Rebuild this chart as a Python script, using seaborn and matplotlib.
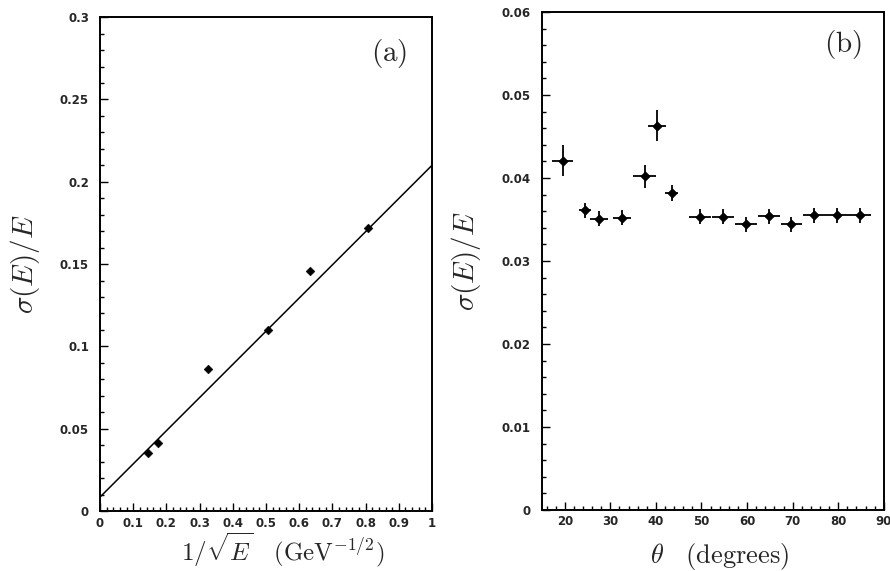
import numpy as np
import pandas as pd
import matplotlib
matplotlib.use("Agg")
import matplotlib.pyplot as plt
import seaborn as sns
from matplotlib.ticker import MultipleLocator, AutoMinorLocator

# --------------------------------------------------------------------------- #
# Data
# --------------------------------------------------------------------------- #
# (a) resolution vs 1/sqrt(E)
inv_sqrt_e = [0.145, 0.176, 0.326, 0.505, 0.632, 0.808]
res_a = [0.0352, 0.0413, 0.0860, 0.1100, 0.1460, 0.1720]
res_a_err = [0.0015, 0.0015, 0.0015, 0.0015, 0.0015, 0.0015]
fit_x = [0.0, 1.0]
fit_intercept = 0.0085
fit_slope = 0.2015

# (b) resolution vs theta
theta = [19.5, 24.5, 27.5, 32.5, 37.5, 40.25, 43.5, 49.75, 54.75,
         59.75, 64.75, 69.75, 74.75, 79.75, 84.75]
theta_err = [2.4, 1.3, 2.0, 2.0, 2.5, 2.0, 1.4, 2.4, 2.4,
             2.4, 2.4, 2.4, 2.5, 2.5, 2.5]
res_b = [0.0421, 0.0361, 0.0351, 0.0352, 0.0402, 0.0463, 0.0382, 0.0353,
         0.0353, 0.0344, 0.0354, 0.0344, 0.0355, 0.0355, 0.0355]
res_b_err = [0.0019, 0.0009, 0.0009, 0.0009, 0.0014, 0.0019, 0.0010, 0.0009,
             0.0009, 0.0009, 0.0009, 0.0009, 0.0009, 0.0009, 0.0009]

x_ticks_a = ["0", "0.1", "0.2", "0.3", "0.4", "0.5", "0.6", "0.7",
             "0.8", "0.9", "1"]
y_ticks_a = ["0", "0.05", "0.1", "0.15", "0.2", "0.25", "0.3"]
x_ticks_b = ["20", "30", "40", "50", "60", "70", "80", "90"]
y_ticks_b = ["0", "0.01", "0.02", "0.03", "0.04", "0.05", "0.06"]

df_a = pd.DataFrame({"x": inv_sqrt_e, "y": res_a})
df_fit = pd.DataFrame({"x": fit_x,
                       "y": [fit_intercept + fit_slope * v for v in fit_x]})
df_b = pd.DataFrame({"x": theta, "y": res_b})

# --------------------------------------------------------------------------- #
# Style
# --------------------------------------------------------------------------- #
sns.set_theme(style="ticks")
plt.rcParams["font.family"] = ["DejaVu Sans"]
plt.rcParams["mathtext.fontset"] = "cm"

fig = plt.figure(figsize=(8.9, 5.71), dpi=100)
ax_a = fig.add_axes([0.1124, 0.105, 0.373, 0.865])
ax_b = fig.add_axes([0.609, 0.107, 0.384, 0.872])


def style_axes(ax):
    for sp in ax.spines.values():
        sp.set_linewidth(1.4)
        sp.set_color("black")
    ax.tick_params(which="both", direction="in", top=False, right=False,
                   color="black", width=1.0)
    ax.tick_params(which="major", length=6)
    ax.tick_params(which="minor", length=3)
    ax.tick_params(axis="y", pad=8)
    ax.tick_params(axis="x", pad=4)
    for lab in ax.get_xticklabels() + ax.get_yticklabels():
        lab.set_fontsize(8.5)
        lab.set_fontweight("bold")


# --- panel (a) ------------------------------------------------------------
sns.lineplot(data=df_fit, x="x", y="y", ax=ax_a, color="black", linewidth=1.1)
ax_a.errorbar(inv_sqrt_e, res_a, yerr=res_a_err, xerr=0.006, fmt="none",
              ecolor="black", elinewidth=1.1)
sns.scatterplot(data=df_a, x="x", y="y", ax=ax_a, marker="D", s=20,
                color="black", edgecolor="black", zorder=3)
ax_a.set_xlim(0, 1)
ax_a.set_ylim(0, 0.3)
ax_a.set_xticks(np.arange(0, 1.01, 0.1))
ax_a.set_xticklabels(x_ticks_a)
ax_a.xaxis.set_minor_locator(AutoMinorLocator(5))
ax_a.set_yticks(np.arange(0, 0.301, 0.05))
ax_a.set_yticklabels(y_ticks_a)
ax_a.yaxis.set_minor_locator(AutoMinorLocator(5))
style_axes(ax_a)
ax_a.set_xlabel(r"$1/\sqrt{E}\ \ \ (\mathrm{GeV}^{-1/2})$", fontsize=18)
ax_a.xaxis.set_label_coords(0.55, -0.04)
ax_a.set_ylabel(r"$\sigma(E)/E$", fontsize=21)
ax_a.yaxis.set_label_coords(-0.175, 0.5)
ax_a.text(0.925, 0.96, r"$\mathrm{(a)}$", transform=ax_a.transAxes,
          fontsize=21, ha="right", va="top")

# --- panel (b) ------------------------------------------------------------
ax_b.errorbar(theta, res_b, yerr=res_b_err, xerr=theta_err, fmt="none",
              ecolor="black", elinewidth=1.3)
sns.scatterplot(data=df_b, x="x", y="y", ax=ax_b, marker="D", s=24,
                color="black", edgecolor="black", zorder=3)
ax_b.set_xlim(15, 90)
ax_b.set_ylim(0, 0.06)
ax_b.set_xticks(np.arange(20, 91, 10))
ax_b.set_xticklabels(x_ticks_b)
ax_b.xaxis.set_minor_locator(MultipleLocator(2))
ax_b.set_yticks(np.arange(0, 0.0601, 0.01))
ax_b.set_yticklabels(y_ticks_b)
ax_b.yaxis.set_minor_locator(AutoMinorLocator(5))
style_axes(ax_b)
ax_b.set_xlabel(r"$\theta\ \ \ \mathrm{(degrees)}$", fontsize=19)
ax_b.xaxis.set_label_coords(0.52, -0.062)
ax_b.set_ylabel(r"$\sigma(E)/E$", fontsize=21)
ax_b.yaxis.set_label_coords(-0.173, 0.5)
ax_b.text(0.936, 0.968, r"$\mathrm{(b)}$", transform=ax_b.transAxes,
          fontsize=21, ha="right", va="top")

fig.savefig("out.png", dpi=100)
